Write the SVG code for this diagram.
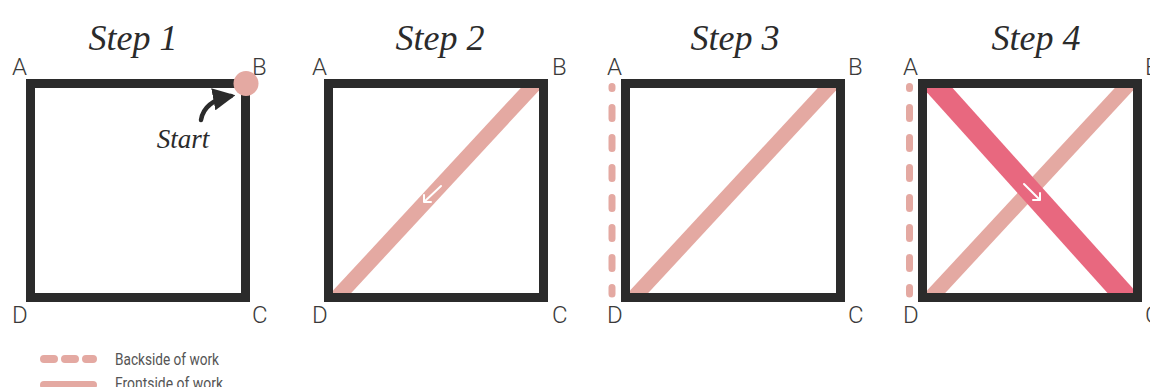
<svg xmlns="http://www.w3.org/2000/svg" width="1150" height="387" viewBox="0 0 1150 387">
<style>
.frame{fill:none;stroke:#2b2b2b;stroke-width:9}
.lbl{font-family:Roboto,"Liberation Sans",sans-serif;font-weight:300;font-size:24px;fill:#3a3a3a}
.title{font-family:"Liberation Serif",serif;font-style:italic;font-size:36px;fill:#2b2b2b;text-anchor:middle}
.light{stroke:#E4A9A2;stroke-width:15;fill:none}
.dark{stroke:#E8687F;stroke-width:22;fill:none}
.dash{stroke:#E4A9A2;stroke-width:7;stroke-linecap:round;stroke-dasharray:11 19;stroke-dashoffset:9;fill:none}
.warrow{stroke:#fff;stroke-width:2;fill:none;stroke-linecap:round;stroke-linejoin:round}
.leg{font-family:Roboto,"Liberation Sans",sans-serif;font-size:16px;fill:#555}
</style>
<defs>
<clipPath id="inner"><rect x="9" y="88" width="206" height="205"/></clipPath>
<marker id="blk" viewBox="0 0 10 10" refX="8" refY="5" markerWidth="5" markerHeight="5" orient="auto"><path d="M0,0 L10,5 L0,10 z" fill="#2b2b2b"/></marker>
</defs>

<g id="step1" transform="translate(26,0)">
<text class="title" x="107" y="50">Step 1</text>
<rect class="frame" x="4.5" y="83.5" width="215" height="214"/>
<text class="lbl" x="-14" y="75">A</text>
<text class="lbl" x="226" y="75">B</text>
<text class="lbl" x="-14" y="323">D</text>
<text class="lbl" x="226" y="323">C</text>
<circle cx="220" cy="83.5" r="12.5" fill="#E4A9A2"/>
<path d="M175,120 Q178,101 205,96" stroke="#2b2b2b" stroke-width="4.5" fill="none" stroke-linecap="round" marker-end="url(#blk)"/>
<text class="title" x="157" y="148" style="font-size:27px">Start</text>
</g>

<g id="step2" transform="translate(324,0)">
<text class="title" x="116" y="50">Step 2</text>
<rect class="frame" x="4.5" y="83.5" width="215" height="214"/>
<g clip-path="url(#inner)"><line class="light" x1="-2" y1="313.5" x2="226" y2="67.5"/></g>
<path class="warrow" d="M117,186 L100,202 M100,195 L100,202 L107,202"/>
<text class="lbl" x="-12" y="75">A</text>
<text class="lbl" x="228" y="75">B</text>
<text class="lbl" x="-12" y="323">D</text>
<text class="lbl" x="228" y="323">C</text>
</g>

<g id="step3" transform="translate(621,0)">
<text class="title" x="114" y="50">Step 3</text>
<rect class="frame" x="4.5" y="83.5" width="215" height="214"/>
<g clip-path="url(#inner)"><line class="light" x1="-2" y1="313.5" x2="226" y2="67.5"/></g>
<line class="dash" x1="-9" y1="86.5" x2="-9" y2="294"/>
<text class="lbl" x="-14" y="75">A</text>
<text class="lbl" x="227" y="75">B</text>
<text class="lbl" x="-14" y="323">D</text>
<text class="lbl" x="227" y="323">C</text>
</g>

<g id="step4" transform="translate(918,0)">
<text class="title" x="118" y="50">Step 4</text>
<rect class="frame" x="4.5" y="83.5" width="215" height="214"/>
<g clip-path="url(#inner)">
<line class="light" x1="-2" y1="313.5" x2="226" y2="67.5"/>
<line class="dark" x1="0" y1="66" x2="225" y2="316"/>
</g>
<path class="warrow" d="M106,184 L122,200 M122,193 L122,200 L115,200"/>
<line class="dash" x1="-8.5" y1="86.5" x2="-8.5" y2="294"/>
<text class="lbl" x="-15" y="75">A</text>
<text class="lbl" x="227" y="75">B</text>
<text class="lbl" x="-15" y="323">D</text>
<text class="lbl" x="227" y="323">C</text>
</g>

<g id="legend">
<line x1="44" y1="359" x2="93" y2="359" stroke="#E4A9A2" stroke-width="8" stroke-linecap="round" stroke-dasharray="10 11"/>
<text class="leg" x="115" y="365" textLength="104" lengthAdjust="spacingAndGlyphs">Backside of work</text>
<line x1="44" y1="385" x2="93" y2="385" stroke="#E4A9A2" stroke-width="8" stroke-linecap="round"/>
<text class="leg" x="115" y="389" textLength="108" lengthAdjust="spacingAndGlyphs">Frontside of work</text>
</g>
</svg>
